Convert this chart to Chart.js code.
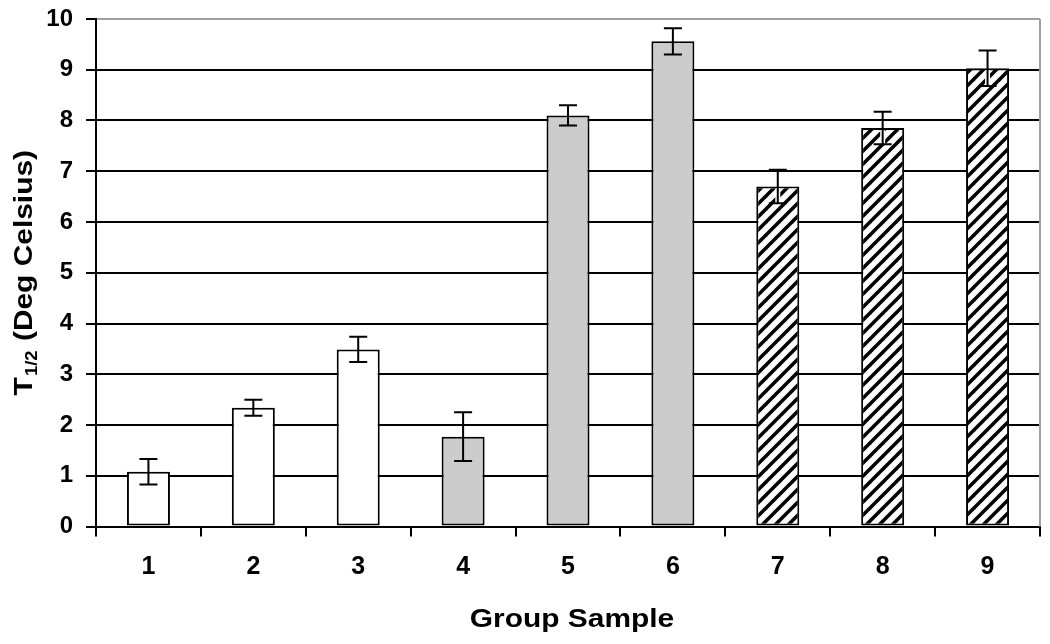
<!DOCTYPE html>
<html>
<head>
<meta charset="utf-8">
<script src="https://cdn.jsdelivr.net/npm/chart.js@4.4.1/dist/chart.umd.min.js"></script>
<style>
  html, body { margin: 0; padding: 0; background: #fff; }
  #wrap { width: 1050px; height: 644px; }
</style>
</head>
<body>
<div id="wrap"><canvas id="c" width="1050" height="644"></canvas></div>
<script>
// ---- data ----
const categories = ['1', '2', '3', '4', '5', '6', '7', '8', '9'];
const meanValues = [1.08, 2.34, 3.49, 1.77, 8.10, 9.56, 6.70, 7.85, 9.03];
const errorValues = [0.25, 0.16, 0.25, 0.48, 0.20, 0.26, 0.33, 0.32, 0.35];
const fillKinds = ['white', 'white', 'white', 'gray', 'gray', 'gray', 'hatch', 'hatch', 'hatch'];
const yTickValues = [0, 1, 2, 3, 4, 5, 6, 7, 8, 9, 10];
const xTitle = 'Group Sample';
const yTitleMain = 'T';
const yTitleSub = '1/2';
const yTitleRest = ' (Deg Celsius)';

// ---- hatch pattern ----
function makeHatch() {
  const s = 13;
  const pc = document.createElement('canvas');
  pc.width = s; pc.height = s;
  const p = pc.getContext('2d');
  p.fillStyle = '#fff';
  p.fillRect(0, 0, s, s);
  p.strokeStyle = '#000';
  p.lineWidth = 3.5;
  p.lineCap = 'square';
  for (const off of [-s, 0, s]) {
    p.beginPath();
    p.moveTo(off - 1, s + 1);
    p.lineTo(off + s + 1, -1);
    p.stroke();
  }
  return p.createPattern(pc, 'repeat');
}
const hatch = makeHatch();
const fillFor = k => k === 'white' ? '#ffffff' : (k === 'gray' ? '#cccccc' : hatch);

const FONT = '"Liberation Sans", Arial, Helvetica, sans-serif';

const errorBarPlugin = {
  id: 'errorBars',
  afterDatasetsDraw(chart) {
    const ctx = chart.ctx;
    const y = chart.scales.y;
    const meta = chart.getDatasetMeta(0);
    ctx.save();
    meta.data.forEach((bar, i) => {
      const x = bar.x;
      const top = y.getPixelForValue(meanValues[i] + errorValues[i]);
      const bot = y.getPixelForValue(meanValues[i] - errorValues[i]);
      const half = 9;
      if (fillKinds[i] === 'hatch') {
        ctx.strokeStyle = '#fff';
        ctx.lineWidth = 5;
        ctx.beginPath();
        ctx.moveTo(x, bar.y + 2); ctx.lineTo(x, bot);
        ctx.stroke();
      }
      ctx.strokeStyle = '#000';
      ctx.lineWidth = 2;
      ctx.beginPath();
      ctx.moveTo(x, top); ctx.lineTo(x, bot);
      ctx.moveTo(x - half, top); ctx.lineTo(x + half, top);
      ctx.moveTo(x - half, bot); ctx.lineTo(x + half, bot);
      ctx.stroke();
    });
    ctx.restore();
  }
};

const frameAndTitles = {
  id: 'frameAndTitles',
  beforeDatasetsDraw(chart) {
    const ctx = chart.ctx;
    const a = chart.chartArea;
    ctx.save();
    ctx.strokeStyle = '#a0a0a0';
    ctx.lineWidth = 2;
    ctx.beginPath();
    ctx.moveTo(a.right, a.top);
    ctx.lineTo(a.right, a.bottom);
    ctx.stroke();
    ctx.restore();
  },
  afterDraw(chart) {
    const ctx = chart.ctx;
    const a = chart.chartArea;
    ctx.save();
    ctx.fillStyle = '#000';
    // x title
    ctx.font = 'bold 26px ' + FONT;
    ctx.textAlign = 'center';
    ctx.textBaseline = 'alphabetic';
    ctx.translate((a.left + a.right) / 2 + 4, 627);
    ctx.scale(1.15, 1);
    ctx.fillText(xTitle, 0, 0);
    ctx.restore();

    // y title with subscript
    ctx.save();
    ctx.fillStyle = '#000';
    ctx.textAlign = 'left';
    ctx.textBaseline = 'alphabetic';
    const big = 'bold 26px ' + FONT;
    const small = 'bold 16px ' + FONT;
    ctx.font = big;
    const w1 = ctx.measureText(yTitleMain).width;
    const w3 = ctx.measureText(yTitleRest).width;
    ctx.font = small;
    const w2 = ctx.measureText(yTitleSub).width + 2;
    const total = w1 + w2 + w3;
    ctx.translate(32, (a.top + a.bottom) / 2);
    ctx.rotate(-Math.PI / 2);
    ctx.scale(1.15, 1);
    let x0 = -total / 2;
    ctx.font = big;
    ctx.fillText(yTitleMain, x0, 0);
    ctx.font = small;
    ctx.fillText(yTitleSub, x0 + w1 + 1, 5);
    ctx.font = big;
    ctx.fillText(yTitleRest, x0 + w1 + w2, 0);
    ctx.restore();
  }
};

new Chart(document.getElementById('c'), {
  type: 'bar',
  data: {
    labels: categories,
    datasets: [{
      data: meanValues,
      backgroundColor: fillKinds.map(fillFor),
      borderColor: '#000',
      borderWidth: 2,
      borderSkipped: false,
      categoryPercentage: 1.0,
      barPercentage: 0.41
    }]
  },
  options: {
    responsive: false,
    animation: false,
    devicePixelRatio: 1,
    layout: { padding: { top: 19, right: 10, left: 0, bottom: 0 } },
    plugins: { legend: { display: false }, tooltip: { enabled: false } },
    scales: {
      x: {
        afterFit(scale) { scale.height = 117.5; scale.paddingLeft = 0; scale.paddingRight = 0; },
        grid: {
          offset: true,
          drawOnChartArea: false,
          drawTicks: true,
          tickLength: 10,
          color: '#000',
          lineWidth: 2
        },
        border: { color: '#000', width: 2 },
        ticks: {
          color: '#000',
          font: { family: FONT, size: 25, weight: 'bold' },
          padding: 16,
          maxRotation: 0
        }
      },
      y: {
        min: 0,
        max: 10,
        afterFit(scale) { scale.width = 96; scale.paddingTop = 0; scale.paddingBottom = 0; },
        afterBuildTicks(scale) { scale.ticks = yTickValues.map(v => ({ value: v })); },
        grid: {
          color: ctx => (ctx.tick && ctx.tick.value === 10) ? '#a0a0a0' : '#000',
          tickColor: '#000',
          lineWidth: 2,
          tickLength: 10
        },
        border: { color: '#000', width: 2 },
        ticks: {
          color: '#000',
          font: { family: FONT, size: 24, weight: 'bold' },
          padding: 13
        }
      }
    }
  },
  plugins: [errorBarPlugin, frameAndTitles]
});
</script>
</body>
</html>
